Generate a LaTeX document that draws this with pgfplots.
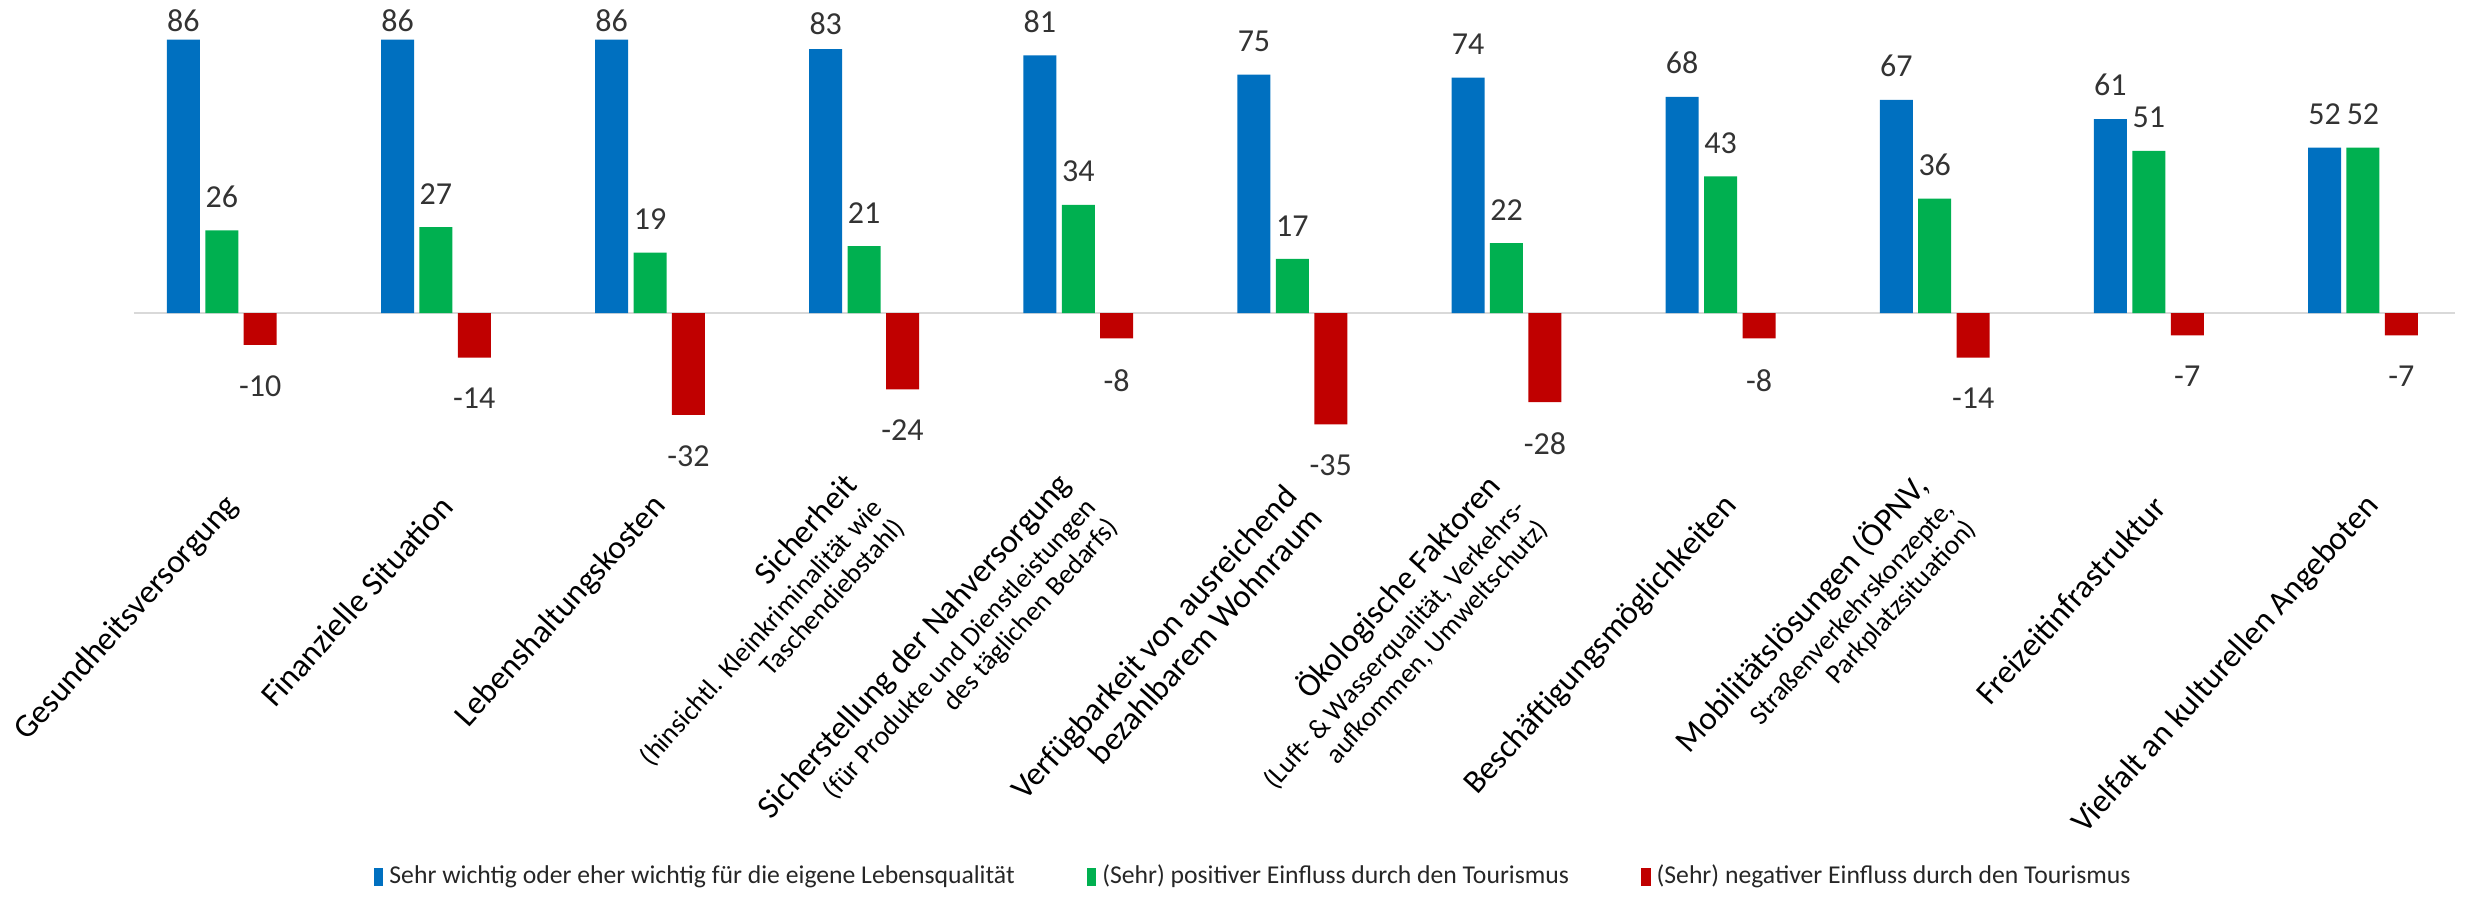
\documentclass[border=0pt]{standalone}
\usepackage{fontspec}
\setmainfont{Carlito}
\usepackage{pgfplots}
\pgfplotsset{compat=1.18}
\definecolor{cblue}{HTML}{0070C0}
\definecolor{cgreen}{HTML}{00B050}
\definecolor{cred}{HTML}{C00000}
\definecolor{zline}{HTML}{D9D9D9}
\newcommand\fdl{\fontsize{8}{9.6}\selectfont}
\newcommand\fcl{\fontsize{8.25}{8.5}\selectfont}
\newcommand\fcs{\fontsize{6.9}{7.4}\selectfont}
\newcommand\flg{\fontsize{6.42}{7.4}\selectfont}
\begin{document}
\begin{tikzpicture}
\path[use as bounding box] (-33.5pt,-107.5pt) rectangle (583.5pt,117.5pt);
\begin{axis}[
  at={(0pt,0pt)}, anchor=south west,
  scale only axis, width=580.25pt, height=114.75pt,
  xmin=-0.41, xmax=10.43, ymin=-49.37, ymax=94.97,
  ybar=1.35pt, bar width=8.25pt,
  axis line style={draw=none}, tick style={draw=none},
  ytick=\empty, xtick={0,...,10},
  xticklabels={
    {Gesundheitsversorgung},
    {Finanzielle Situation},
    {Lebenshaltungskosten},
    {Sicherheit\\{\fcs (hinsichtl. Kleinkriminalität wie}\\[-1.1pt]{\fcs Taschendiebstahl)}},
    {Sicherstellung der Nahversorgung\\{\fcs (für Produkte und Dienstleistungen}\\[-1.1pt]{\fcs des täglichen Bedarfs)}},
    {Verfügbarkeit von ausreichend\\bezahlbarem Wohnraum},
    {Ökologische Faktoren\\{\fcs (Luft- \& Wasserqualität, Verkehrs-}\\[-1.1pt]{\fcs aufkommen, Umweltschutz)}},
    {Beschäftigungsmöglichkeiten},
    {Mobilitätslösungen (ÖPNV,\\{\fcs Straßenverkehrskonzepte,}\\[-1.1pt]{\fcs Parkplatzsituation)}},
    {Freizeitinfrastruktur},
    {Vielfalt an kulturellen Angeboten}},
  xticklabel style={font=\fcl, rotate=48, anchor=east, align=right, inner sep=1pt, xshift=0.4pt, yshift=-4.4pt},
  clip=false,
  nodes near coords,
  /pgf/number format/assume math mode=true,
  nodes near coords style={font=\fdl, text=black!80, inner xsep=0pt, inner ysep=5.5pt},
  legend columns=3,
  legend style={at={(0.103,-0.887)}, anchor=west, draw=none, fill=none, inner sep=0pt,
    font=\flg, text=black!85, nodes={inner xsep=1.5pt, inner ysep=0pt},
    /tikz/every even column/.append style={column sep=16.5pt}},
  legend image code/.code={\fill[#1,draw=none] (0pt,-2.2pt) rectangle (2.4pt,2.2pt);},
]
\draw[zline, line width=0.6pt] (axis cs:-0.41,0) -- (axis cs:10.43,0);
\addplot[fill=cblue, draw=none,
  coordinate style/.condition={\coordindex<3}{yshift=-3.75pt},
  coordinate style/.condition={\coordindex==3}{yshift=-2pt}]
  coordinates {(0,86) (1,86) (2,86) (3,83) (4,81) (5,75) (6,74) (7,68) (8,67) (9,61) (10,52)};
\addlegendentry{Sehr wichtig oder eher wichtig für die eigene Lebensqualität}
\addplot[fill=cgreen, draw=none] coordinates {(0,26) (1,27) (2,19) (3,21) (4,34) (5,17) (6,22) (7,43) (8,36) (9,51) (10,52)};
\addlegendentry{(Sehr) positiver Einfluss durch den Tourismus\hspace{-3pt}}
\addplot[fill=cred, draw=none, nodes near coords style={inner ysep=7.5pt}] coordinates {(0,-10) (1,-14) (2,-32) (3,-24) (4,-8) (5,-35) (6,-28) (7,-8) (8,-14) (9,-7) (10,-7)};
\addlegendentry{(Sehr) negativer Einfluss durch den Tourismus}
\end{axis}
\end{tikzpicture}
\end{document}
